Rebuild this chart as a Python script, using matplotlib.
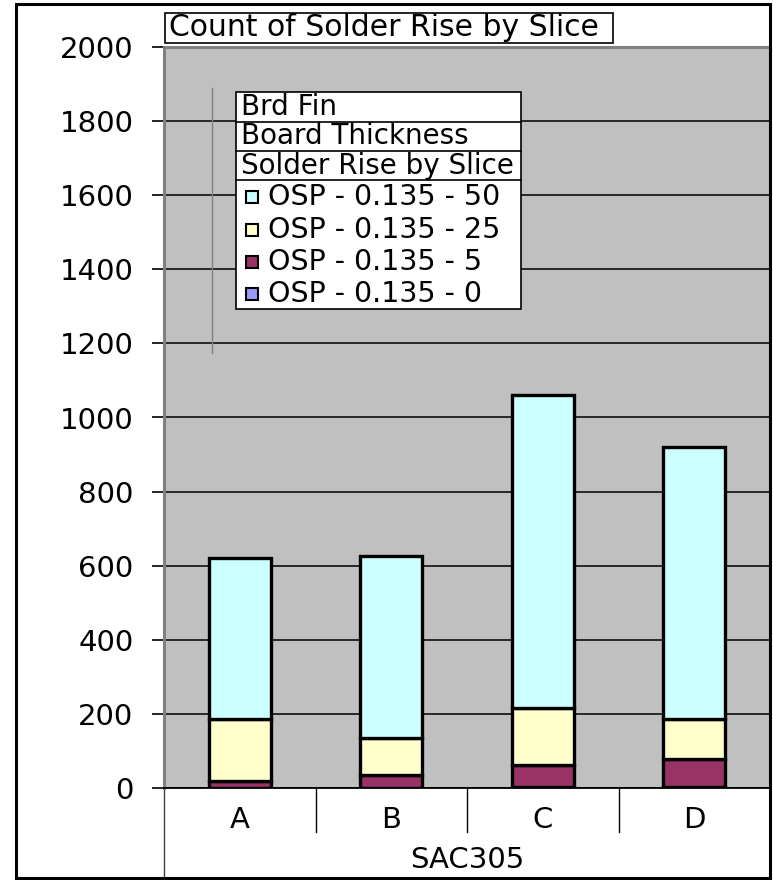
import matplotlib
matplotlib.use("Agg")
import matplotlib.pyplot as plt
from matplotlib.patches import Rectangle
from matplotlib.lines import Line2D
import numpy as np

plt.rcParams['font.family'] = ['DejaVu Sans']

# ---- data ----
categories = ['A', 'B', 'C', 'D']
group_label = 'SAC305'
series_labels = ['OSP - 0.135 - 0', 'OSP - 0.135 - 5', 'OSP - 0.135 - 25', 'OSP - 0.135 - 50']
s_0 = [0, 0, 4, 3]
s_5 = [20, 35, 57, 74]
s_25 = [166, 100, 154, 108]
s_50 = [436, 490, 846, 735]
series_values = [s_0, s_5, s_25, s_50]
series_colors = ['#9999FF', '#993366', '#FFFFCC', '#CCFFFF']
yticks = [0, 200, 400, 600, 800, 1000, 1200, 1400, 1600, 1800, 2000]
title = 'Count of Solder Rise by Slice'
legend_headers = ['Brd Fin', 'Board Thickness', 'Solder Rise by Slice']

W, H = 773, 880
fig = plt.figure(figsize=(W / 100, H / 100), dpi=100)


def fx(x):
    return x / W


def fy(y):
    return 1 - y / H


ax_l, ax_r, ax_t, ax_b = 164, 770, 47, 788
ax = fig.add_axes([fx(ax_l), fy(ax_b), (ax_r - ax_l) / W, (ax_b - ax_t) / H])
ax.set_facecolor('#C0C0C0')

x = np.arange(len(categories))
bottom = np.zeros(len(categories))
for vals, col, lab in zip(series_values, series_colors, series_labels):
    ax.bar(x, vals, width=0.41, bottom=bottom, color=col, edgecolor='black',
           linewidth=2.4, label=lab, zorder=3)
    bottom += np.array(vals)

ax.set_xlim(-0.5, len(categories) - 0.5)
ax.set_ylim(0, 2000)
ax.set_yticks(yticks)
ax.set_yticklabels([str(v) for v in yticks], fontsize=21)
ax.tick_params(axis='y', length=9, width=1.2, color='black', pad=13)
ax.set_xticks([])
ax.yaxis.grid(True, color='black', linewidth=1.1, zorder=1)
ax.set_axisbelow(True)

for s in ['top', 'right']:
    ax.spines[s].set_visible(False)
ax.spines['left'].set_color('#808080')
ax.spines['left'].set_linewidth(2.2)
ax.spines['bottom'].set_color('black')
ax.spines['bottom'].set_linewidth(1.3)
ax.spines['bottom'].set_zorder(4)

# top border of the plot area
ax.plot([0, 1], [1, 1], transform=ax.transAxes, color='#808080', lw=2.2, clip_on=False, zorder=5)

# category axis (two levels)
axh = ax_b - ax_t
trans = ax.get_xaxis_transform()
for i, c in enumerate(categories):
    ax.text(i, -32 / axh, c, transform=trans, ha='center', va='center', fontsize=21)
for b in np.arange(0.5, len(categories) - 0.5, 1.0):
    ax.add_line(Line2D([b, b], [0, -44 / axh], transform=trans, color='black', lw=1.0, clip_on=False))
ax.add_line(Line2D([-0.5, -0.5], [0, -88 / axh], transform=trans, color='#404040', lw=1.0, clip_on=False))
ax.text((len(categories) - 1) / 2, -72 / axh, group_label, transform=trans, ha='center', va='center', fontsize=21)

# stray vertical drop-zone line
fig.add_artist(Line2D([fx(212), fx(212)], [fy(88), fy(353)], color='#808080', lw=1.0))

# title box
fig.add_artist(Rectangle((fx(165), fy(43)), (613 - 165) / W, (43 - 13) / H, transform=fig.transFigure,
                         facecolor='white', edgecolor='black', lw=1.2))
fig.text(fx(169), fy(28), title, ha='left', va='center', fontsize=21.5)

# legend with header rows
lg_l, lg_r = 236, 521
rows = [92, 122, 151, 180, 309]
fig.add_artist(Rectangle((fx(lg_l), fy(rows[-1])), (lg_r - lg_l) / W, (rows[-1] - rows[0]) / H,
                         transform=fig.transFigure, facecolor='white', edgecolor='black', lw=1.2, zorder=6))
for yy in rows[1:4]:
    fig.add_artist(Line2D([fx(lg_l), fx(lg_r)], [fy(yy), fy(yy)], color='black', lw=1.2, zorder=7))
for i, h in enumerate(legend_headers):
    fig.text(fx(241), fy((rows[i] + rows[i + 1]) / 2), h, ha='left', va='center', fontsize=20, zorder=8)
entry_y = [197, 230, 262, 294]
for yy, lab, col in zip(entry_y, series_labels[::-1], series_colors[::-1]):
    fig.add_artist(Rectangle((fx(246), fy(yy + 6)), 12 / W, 12 / H, transform=fig.transFigure,
                             facecolor=col, edgecolor='black', lw=1.5, zorder=8))
    fig.text(fx(268), fy(yy), lab, ha='left', va='center', fontsize=20.5, zorder=8)

# outer chart border
fig.add_artist(Rectangle((fx(16), fy(878)), (770 - 16) / W, (878 - 4) / H, transform=fig.transFigure,
                         facecolor='none', edgecolor='black', lw=2.2, zorder=10))

fig.savefig('out.png', dpi=100)
